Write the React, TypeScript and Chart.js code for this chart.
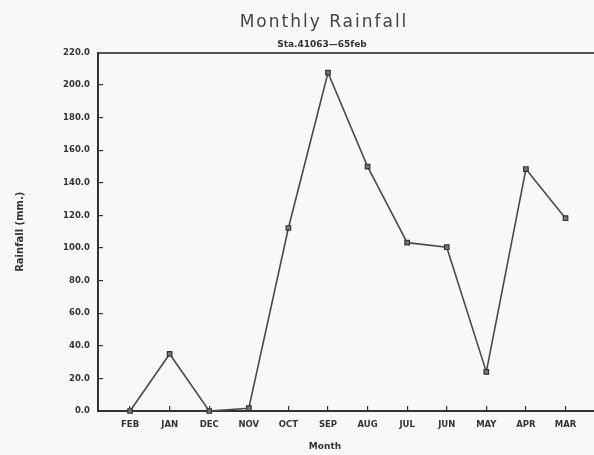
import React, { useEffect, useRef } from "react";
import { Chart, registerables } from "chart.js";

Chart.register(...registerables);

const MONTHS = ["FEB", "JAN", "DEC", "NOV", "OCT", "SEP", "AUG", "JUL", "JUN", "MAY", "APR", "MAR"];
const RAINFALL = [0, 35, 0, 1.7, 112.3, 207.6, 150, 103.3, 100.5, 24, 148.5, 118.3];
const Y_MIN = 0;
const Y_MAX = 220;
const Y_STEP = 20;
const TITLE = "Monthly Rainfall";
const SUBTITLE = "Sta.41063\u201465feb";
const X_TITLE = "Month";
const Y_TITLE = "Rainfall (mm.)";

const FONT = "'DejaVu Sans', sans-serif";

const textPlugin = {
  id: "textPlugin",
  beforeDraw(chart: any) {
    const ctx = chart.ctx;
    ctx.save();
    ctx.fillStyle = "#f8f8f6";
    ctx.fillRect(0, 0, chart.width, chart.height);
    ctx.restore();
  },
  afterDraw(chart: any) {
    const ctx = chart.ctx;
    ctx.save();
    ctx.textAlign = "center";
    ctx.textBaseline = "alphabetic";
    ctx.fillStyle = "#444";
    ctx.font = `17px ${FONT}`;
    (ctx as any).letterSpacing = "2px";
    ctx.fillText(TITLE, 324, 27);
    (ctx as any).letterSpacing = "0px";
    ctx.fillStyle = "#333";
    ctx.font = `bold 9px ${FONT}`;
    ctx.fillText(SUBTITLE, 322, 47);
    ctx.fillText(X_TITLE, 325, 449);
    ctx.restore();
  },
};

export default function App() {
  const ref = useRef<HTMLCanvasElement | null>(null);
  useEffect(() => {
    if (!ref.current) return;
    const chart = new Chart(ref.current, {
      type: "line",
      data: {
        datasets: [
          {
            data: RAINFALL.map((v, i) => ({ x: i, y: v })),
            borderColor: "#4a4a4a",
            borderWidth: 1.6,
            pointStyle: "rect",
            pointRadius: 3.2,
            pointBackgroundColor: "#777",
            pointBorderColor: "#333",
            pointBorderWidth: 1.2,
            clip: false as any,
            tension: 0,
          },
        ],
      },
      options: {
        animation: false,
        responsive: false,
        devicePixelRatio: 1,
        layout: { autoPadding: false, padding: { top: 52.5, left: 0, right: 0, bottom: 0 } },
        plugins: {
          legend: { display: false },
          tooltip: { enabled: false },
          title: { display: false },
        },
        scales: {
          x: {
            type: "linear",
            position: "bottom",
            min: -0.81,
            max: 11.72,
            afterBuildTicks: (s: any) => {
              s.ticks = MONTHS.map((_, i) => ({ value: i }));
            },
            afterFit: (s: any) => {
              s.height = 44;
              s.paddingLeft = 0;
              s.paddingRight = 0;
            },
            ticks: {
              autoSkip: false,
              maxRotation: 0,
              padding: 14,
              color: "#333",
              font: { family: FONT, size: 8.5, weight: "bold" },
              callback: (v: any) => MONTHS[v] ?? "",
            },
            grid: {
              drawOnChartArea: false,
              drawTicks: true,
              tickLength: -5,
              color: "#333",
              lineWidth: 1.2,
            },
            border: { display: true, color: "#333", width: 2 },
          },
          xTop: {
            type: "linear",
            position: "top",
            min: 0,
            max: 1,
            afterFit: (s: any) => {
              s.height = 0;
              s.paddingLeft = 0;
              s.paddingRight = 0;
            },
            ticks: { display: false },
            grid: { display: false, drawTicks: false },
            border: { display: true, color: "#555", width: 2 },
          },
          y: {
            type: "linear",
            min: Y_MIN,
            max: Y_MAX,
            afterFit: (s: any) => {
              s.width = 98;
              s.paddingTop = 0;
              s.paddingBottom = 0;
            },
            ticks: {
              stepSize: Y_STEP,
              padding: 13,
              color: "#333",
              font: { family: FONT, size: 8.5, weight: "bold" },
              callback: (v: any) => Number(v).toFixed(1),
            },
            grid: {
              drawOnChartArea: false,
              drawTicks: true,
              tickLength: -5,
              color: "#333",
              lineWidth: 1.2,
            },
            border: { display: true, color: "#333", width: 2 },
            title: {
              display: true,
              text: Y_TITLE,
              color: "#333",
              font: { family: FONT, size: 10, weight: "bold" },
              padding: { top: 14, bottom: 0 },
            },
          },
        },
      } as any,
      plugins: [textPlugin],
    });
    return () => chart.destroy();
  }, []);
  return (
    <div style={{ position: "fixed", left: 0, top: 0, width: 594, height: 455 }}>
      <canvas ref={ref} width={594} height={455} style={{ display: "block", width: 594, height: 455 }} />
    </div>
  );
}
